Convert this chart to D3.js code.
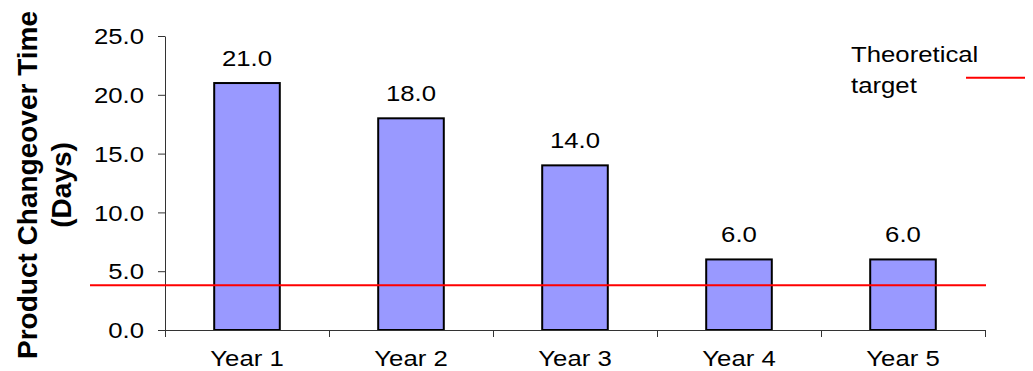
<!DOCTYPE html>
<html>
<head>
<meta charset="utf-8">
<script src="https://cdn.jsdelivr.net/npm/d3@7/dist/d3.min.js"></script>
<style>
  html, body { margin: 0; padding: 0; background: #fff; }
  svg { display: block; }
  text { font-family: "Liberation Sans", Arial, sans-serif; fill: #000; }
</style>
</head>
<body>
<svg id="chart" width="1033" height="371"></svg>
<script>
const categories = ["Year 1", "Year 2", "Year 3", "Year 4", "Year 5"];
const values = [21.0, 18.0, 14.0, 6.0, 6.0];
const targetValue = 3.8;
const yTicks = [0, 5, 10, 15, 20, 25];
const yTitleLines = ["Product Changeover Time", "(Days)"];
const legendLines = ["Theoretical", "target"];

const W = 1033, H = 371;
const margin = { left: 165, right: 48, top: 36, bottom: 41 };
const SX = 1.17; // horizontal text stretch
const FS = 22;

const svg = d3.select("#chart");

const x = d3.scaleBand()
  .domain(categories)
  .range([margin.left, W - margin.right])
  .paddingInner(0.6)
  .paddingOuter(0.3);

const y = d3.scaleLinear()
  .domain([0, 25])
  .range([H - margin.bottom, margin.top]);

// bars
svg.append("g").selectAll("rect")
  .data(values)
  .join("rect")
  .attr("x", (d, i) => x(categories[i]))
  .attr("y", d => y(d))
  .attr("width", x.bandwidth())
  .attr("height", d => y(0) - y(d))
  .attr("fill", "#9999ff")
  .attr("stroke", "#000")
  .attr("stroke-width", 2);

// y axis
const yAxis = svg.append("g")
  .attr("transform", `translate(${margin.left},0)`)
  .call(d3.axisLeft(y).tickValues(yTicks).tickFormat(d3.format(".1f")).tickSize(7).tickSizeOuter(0).tickPadding(14));
yAxis.select(".domain").attr("stroke", "#333");
yAxis.selectAll(".tick line").attr("stroke", "#333");
yAxis.selectAll(".tick text")
  .attr("x", null)
  .attr("dy", "0.35em")
  .attr("transform", `translate(-21,0) scale(${SX},1)`)
  .style("font-size", FS + "px")
  .style("font-family", "'Liberation Sans', Arial, sans-serif")
  .attr("fill", "#000");

// x axis with ticks at category boundaries
const xb = d3.scaleLinear().domain([0, categories.length]).range(x.range());
const xAxis = svg.append("g")
  .attr("transform", `translate(0,${y(0)})`)
  .call(d3.axisBottom(xb).ticks(categories.length).tickFormat("").tickSize(7).tickSizeOuter(0));
xAxis.select(".domain").attr("stroke", "#333");
xAxis.selectAll(".tick line").attr("stroke", "#333");

// category labels
svg.append("g").selectAll("text")
  .data(categories)
  .join("text")
  .attr("transform", d => `translate(${x(d) + x.bandwidth() / 2},${y(0) + 36}) scale(${SX},1)`)
  .attr("text-anchor", "middle")
  .style("font-size", FS + "px")
  .text(d => d);

// value labels
svg.append("g").selectAll("text")
  .data(values)
  .join("text")
  .attr("transform", (d, i) => `translate(${x(categories[i]) + x.bandwidth() / 2},${y(d) - 17}) scale(${SX},1)`)
  .attr("text-anchor", "middle")
  .style("font-size", FS + "px")
  .text(d => d3.format(".1f")(d));

// target line
svg.append("line")
  .attr("x1", x.range()[0] - 75)
  .attr("x2", x.range()[1] + 1)
  .attr("y1", y(targetValue))
  .attr("y2", y(targetValue))
  .attr("stroke", "#ff0000")
  .attr("stroke-width", 2);

// legend
const legend = svg.append("g");
legend.selectAll("text")
  .data(legendLines)
  .join("text")
  .attr("transform", (d, i) => `translate(851,${61.7 + i * 31.6}) scale(${SX},1)`)
  .style("font-size", FS + "px")
  .text(d => d);
legend.append("line")
  .attr("x1", 966).attr("x2", 1025)
  .attr("y1", 77.7).attr("y2", 77.7)
  .attr("stroke", "#ff0000")
  .attr("stroke-width", 2);

// y title
const cy = 185;
svg.append("g").selectAll("text")
  .data(yTitleLines)
  .join("text")
  .attr("transform", (d, i) => `translate(${37 + i * 34},${cy}) rotate(-90)`)
  .attr("text-anchor", "middle")
  .style("font-size", "28px")
  .style("font-weight", "bold")
  .text(d => d);
</script>
</body>
</html>
